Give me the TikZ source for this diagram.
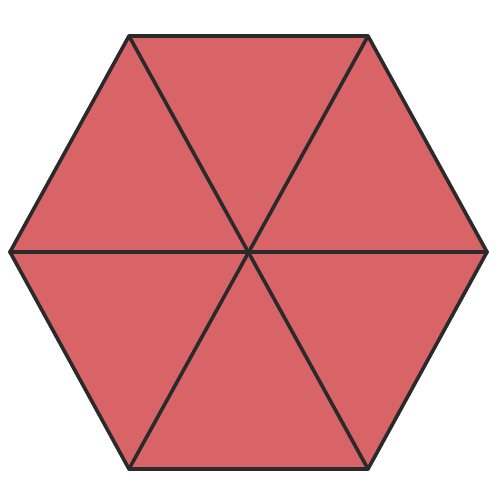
\documentclass[tikz,border=0pt]{standalone}
\usepackage{xcolor}
\definecolor{hexred}{HTML}{D96468}
\definecolor{edgegray}{HTML}{2A2A2A}

\begin{document}
\begin{tikzpicture}[
      x=1pt, y=-1pt,
      edge/.style={draw=edgegray, line width=3.6pt, line join=round, line cap=round},
    ]
    \useasboundingbox (0,0) rectangle (497,502);
    % corners of the hexagon and its centre
    \coordinate (c)  at (248,252);
    \coordinate (v1) at (129,36);
    \coordinate (v2) at (368,36);
    \coordinate (v3) at (487,252);
    \coordinate (v4) at (368,469);
    \coordinate (v5) at (129,469);
    \coordinate (v6) at (10,252);

    \fill[hexred] (v1) -- (v2) -- (v3) -- (v4) -- (v5) -- (v6) -- cycle;
    \draw[edge] (v1) -- (v2) -- (v3) -- (v4) -- (v5) -- (v6) -- cycle;

    \draw[edge] (v1) -- (v4);
    \draw[edge] (v2) -- (v5);
    \draw[edge] (v3) -- (v6);
  \end{tikzpicture}
\end{document}
